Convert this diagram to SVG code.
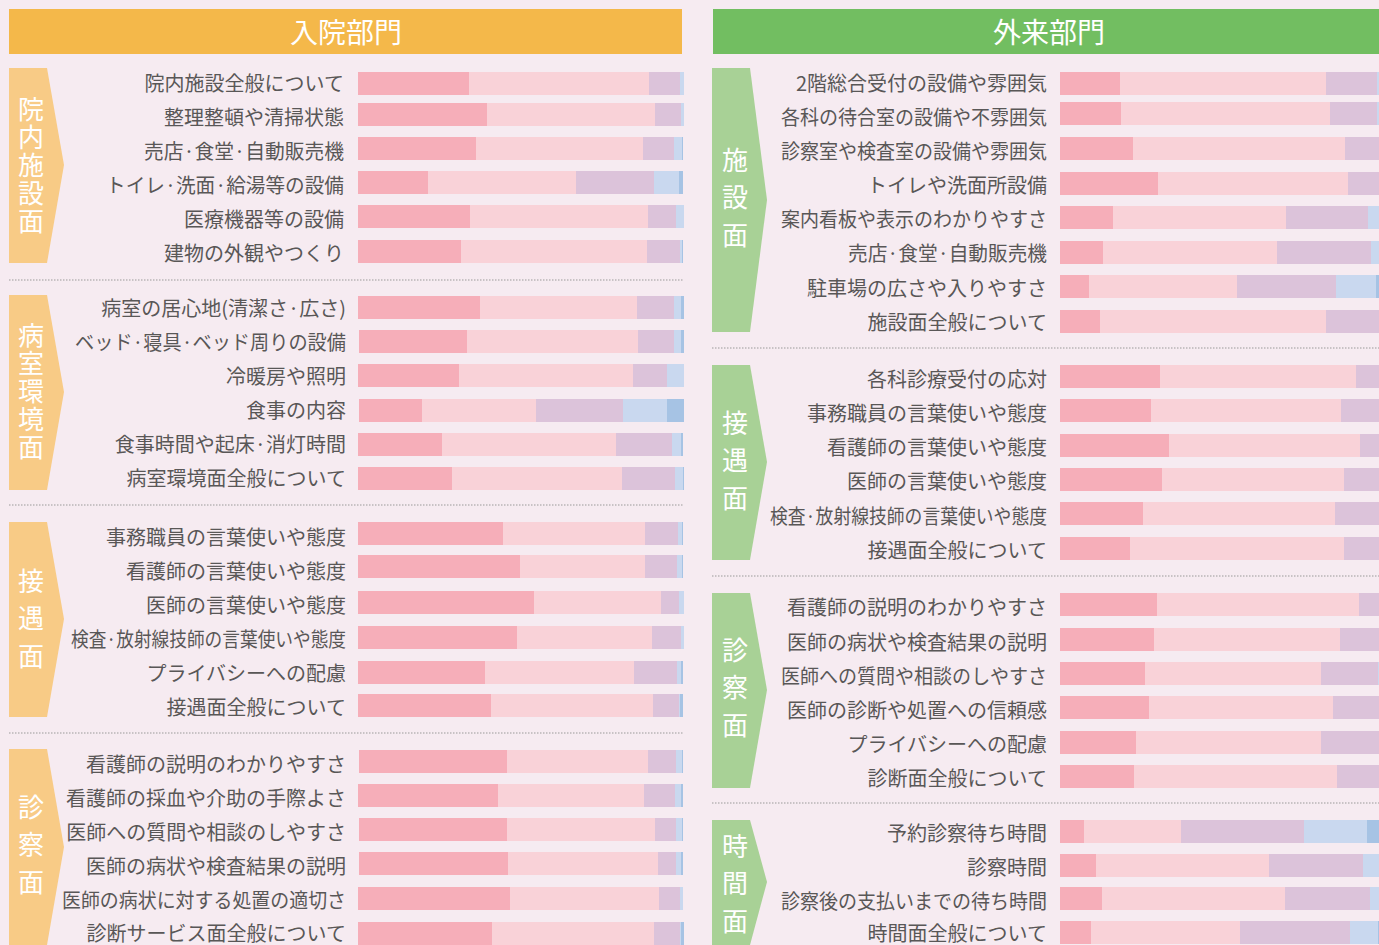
<svg xmlns="http://www.w3.org/2000/svg" width="1379" height="945" viewBox="0 0 1379 945">
<style>
text{font-family:"Noto Sans CJK JP","Noto Sans",sans-serif}
.lbl{font-size:20px;fill:#595757;text-anchor:end;dominant-baseline:central}
.side{font-size:26px;fill:#fff;writing-mode:vertical-rl;text-orientation:upright}
.s28{letter-spacing:2px}.s38{letter-spacing:11.5px}
.hdr{font-size:28px;fill:#fff;text-anchor:middle;dominant-baseline:central}
.c1{fill:#F6AEB9}.c2{fill:#F9D2D8}.c3{fill:#DCC3DA}.c4{fill:#C9D8EF}.c5{fill:#A6C3E4}
.div{stroke:#9a9a9a;stroke-width:1.2;stroke-dasharray:1.5 1.5;fill:none}
.bar rect{height:23px}
</style>
<rect width="1379" height="945" fill="#F6EBF1"/>

<g id="header-inpatient"><rect x="9" y="9" width="673" height="45" fill="#F4B84A"/><text class="hdr" x="346" y="31">入院部門</text></g>
<g id="header-outpatient"><rect x="713" y="9" width="666" height="45" fill="#72BE61"/><text class="hdr" x="1049" y="31">外来部門</text></g>

<g id="connectors">
<line class="div" x1="9" y1="280" x2="684" y2="280"/>
<line class="div" x1="9" y1="505" x2="684" y2="505"/>
<line class="div" x1="9" y1="733" x2="684" y2="733"/>
<line class="div" x1="712" y1="348" x2="1379" y2="348"/>
<line class="div" x1="712" y1="576" x2="1379" y2="576"/>
<line class="div" x1="712" y1="803" x2="1379" y2="803"/>
</g>

<!-- Left side labels -->
<g id="side-in-1"><polygon points="9,68 47,68 64,165 47,263 9,263" fill="#F8CB86"/>
<text class="side s28" x="31" y="96">院内施設面</text></g>
<g id="side-in-2"><polygon points="9,295 47,295 64,392 47,490 9,490" fill="#F8CB86"/>
<text class="side s28" x="31" y="322">病室環境面</text></g>
<g id="side-in-3"><polygon points="9,522 47,522 64,619 47,717 9,717" fill="#F8CB86"/>
<text class="side s38" x="31" y="568">接遇面</text></g>
<g id="side-in-4"><polygon points="9,749 47,749 64,847 47,945 9,945" fill="#F8CB86"/>
<text class="side s38" x="31" y="794">診察面</text></g>

<!-- Right side labels -->
<g id="side-out-1"><polygon points="712,68 750,68 767,200 750,332 712,332" fill="#A8D196"/>
<text class="side s38" x="735" y="147">施設面</text></g>
<g id="side-out-2"><polygon points="712,365 750,365 767,462 750,560 712,560" fill="#A8D196"/>
<text class="side s38" x="735" y="410">接遇面</text></g>
<g id="side-out-3"><polygon points="712,593 750,593 767,690 750,788 712,788" fill="#A8D196"/>
<text class="side s38" x="735" y="637">診察面</text></g>
<g id="side-out-4"><polygon points="712,820 750,820 767,882 750,945 712,945" fill="#A8D196"/>
<text class="side s38" x="735" y="833">時間面</text></g>

<!-- Left labels -->
<g id="labels-in">
<text class="lbl" x="344" y="82">院内施設全般について</text>
<text class="lbl" x="344" y="116">整理整頓や清掃状態</text>
<text class="lbl" x="344" y="150" textLength="200" lengthAdjust="spacingAndGlyphs">売店·食堂·自動販売機</text>
<text class="lbl" x="344" y="184" textLength="238" lengthAdjust="spacingAndGlyphs">トイレ·洗面·給湯等の設備</text>
<text class="lbl" x="344" y="218">医療機器等の設備</text>
<text class="lbl" x="344" y="252">建物の外観やつくり</text>
<text class="lbl" x="346" y="307">病室の居心地(清潔さ·広さ)</text>
<text class="lbl" x="346" y="341" textLength="271" lengthAdjust="spacingAndGlyphs">ベッド·寝具·ベッド周りの設備</text>
<text class="lbl" x="346" y="375">冷暖房や照明</text>
<text class="lbl" x="346" y="409">食事の内容</text>
<text class="lbl" x="346" y="443">食事時間や起床·消灯時間</text>
<text class="lbl" x="346" y="477">病室環境面全般について</text>
<text class="lbl" x="346" y="536">事務職員の言葉使いや態度</text>
<text class="lbl" x="346" y="570">看護師の言葉使いや態度</text>
<text class="lbl" x="346" y="604">医師の言葉使いや態度</text>
<text class="lbl" x="346" y="638" textLength="275" lengthAdjust="spacingAndGlyphs">検査·放射線技師の言葉使いや態度</text>
<text class="lbl" x="346" y="672">プライバシーへの配慮</text>
<text class="lbl" x="346" y="706">接遇面全般について</text>
<text class="lbl" x="346" y="763">看護師の説明のわかりやすさ</text>
<text class="lbl" x="346" y="797">看護師の採血や介助の手際よさ</text>
<text class="lbl" x="346" y="831">医師への質問や相談のしやすさ</text>
<text class="lbl" x="346" y="865">医師の病状や検査結果の説明</text>
<text class="lbl" x="346" y="899" textLength="284" lengthAdjust="spacingAndGlyphs">医師の病状に対する処置の適切さ</text>
<text class="lbl" x="346" y="932">診断サービス面全般について</text>
</g>

<!-- Right labels -->
<g id="labels-out">
<text class="lbl" x="1047" y="82">2階総合受付の設備や雰囲気</text>
<text class="lbl" x="1047" y="116" textLength="266" lengthAdjust="spacingAndGlyphs">各科の待合室の設備や不雰囲気</text>
<text class="lbl" x="1047" y="150" textLength="266" lengthAdjust="spacingAndGlyphs">診察室や検査室の設備や雰囲気</text>
<text class="lbl" x="1047" y="184">トイレや洗面所設備</text>
<text class="lbl" x="1047" y="218" textLength="266" lengthAdjust="spacingAndGlyphs">案内看板や表示のわかりやすさ</text>
<text class="lbl" x="1047" y="252" textLength="199" lengthAdjust="spacingAndGlyphs">売店·食堂·自動販売機</text>
<text class="lbl" x="1047" y="287">駐車場の広さや入りやすさ</text>
<text class="lbl" x="1047" y="321">施設面全般について</text>
<text class="lbl" x="1047" y="378">各科診療受付の応対</text>
<text class="lbl" x="1047" y="412">事務職員の言葉使いや態度</text>
<text class="lbl" x="1047" y="446">看護師の言葉使いや態度</text>
<text class="lbl" x="1047" y="480">医師の言葉使いや態度</text>
<text class="lbl" x="1047" y="515" textLength="277" lengthAdjust="spacingAndGlyphs">検査·放射線技師の言葉使いや態度</text>
<text class="lbl" x="1047" y="549">接遇面全般について</text>
<text class="lbl" x="1047" y="606">看護師の説明のわかりやすさ</text>
<text class="lbl" x="1047" y="641">医師の病状や検査結果の説明</text>
<text class="lbl" x="1047" y="675" textLength="266" lengthAdjust="spacingAndGlyphs">医師への質問や相談のしやすさ</text>
<text class="lbl" x="1047" y="709">医師の診断や処置への信頼感</text>
<text class="lbl" x="1047" y="743">プライバシーへの配慮</text>
<text class="lbl" x="1047" y="777">診断面全般について</text>
<text class="lbl" x="1047" y="832">予約診察待ち時間</text>
<text class="lbl" x="1047" y="866">診察時間</text>
<text class="lbl" x="1047" y="900" textLength="266" lengthAdjust="spacingAndGlyphs">診察後の支払いまでの待ち時間</text>
<text class="lbl" x="1047" y="932">時間面全般について</text>
</g>

<!-- Left bars -->
<g id="bars-in" class="bar">
<rect class="c1" x="358" y="72" width="111"/><rect class="c2" x="469" y="72" width="180"/><rect class="c3" x="649" y="72" width="31"/><rect class="c4" x="680" y="72" width="4"/>
<rect class="c1" x="358" y="103" width="129"/><rect class="c2" x="487" y="103" width="168"/><rect class="c3" x="655" y="103" width="26"/><rect class="c4" x="681" y="103" width="3"/>
<rect class="c1" x="358" y="137" width="118"/><rect class="c2" x="476" y="137" width="167"/><rect class="c3" x="643" y="137" width="31"/><rect class="c4" x="674" y="137" width="8"/><rect class="c5" x="682" y="137" width="1"/>
<rect class="c1" x="358" y="171" width="70"/><rect class="c2" x="428" y="171" width="148"/><rect class="c3" x="576" y="171" width="78"/><rect class="c4" x="654" y="171" width="25"/><rect class="c5" x="679" y="171" width="4"/>
<rect class="c1" x="358" y="205" width="112"/><rect class="c2" x="470" y="205" width="178"/><rect class="c3" x="648" y="205" width="28"/><rect class="c4" x="676" y="205" width="8"/>
<rect class="c1" x="358" y="240" width="103"/><rect class="c2" x="461" y="240" width="186"/><rect class="c3" x="647" y="240" width="33"/><rect class="c4" x="680" y="240" width="2"/><rect class="c5" x="682" y="240" width="1"/>

<rect class="c1" x="358" y="296" width="122"/><rect class="c2" x="480" y="296" width="157"/><rect class="c3" x="637" y="296" width="37"/><rect class="c4" x="674" y="296" width="7"/><rect class="c5" x="681" y="296" width="3"/>
<rect class="c1" x="359" y="330" width="108"/><rect class="c2" x="467" y="330" width="171"/><rect class="c3" x="638" y="330" width="36"/><rect class="c4" x="674" y="330" width="7"/><rect class="c5" x="681" y="330" width="3"/>
<rect class="c1" x="358" y="364" width="101"/><rect class="c2" x="459" y="364" width="174"/><rect class="c3" x="633" y="364" width="34"/><rect class="c4" x="667" y="364" width="17"/>
<rect class="c1" x="359" y="399" width="63"/><rect class="c2" x="422" y="399" width="114"/><rect class="c3" x="536" y="399" width="87"/><rect class="c4" x="623" y="399" width="44"/><rect class="c5" x="667" y="399" width="17"/>
<rect class="c1" x="358" y="433" width="84"/><rect class="c2" x="442" y="433" width="174"/><rect class="c3" x="616" y="433" width="56"/><rect class="c4" x="672" y="433" width="9"/><rect class="c5" x="681" y="433" width="2"/>
<rect class="c1" x="358" y="467" width="94"/><rect class="c2" x="452" y="467" width="170"/><rect class="c3" x="622" y="467" width="53"/><rect class="c4" x="675" y="467" width="8"/><rect class="c5" x="683" y="467" width="1"/>

<rect class="c1" x="358" y="522" width="145"/><rect class="c2" x="503" y="522" width="142"/><rect class="c3" x="645" y="522" width="33"/><rect class="c4" x="678" y="522" width="4"/><rect class="c5" x="682" y="522" width="1"/>
<rect class="c1" x="358" y="555" width="162"/><rect class="c2" x="520" y="555" width="125"/><rect class="c3" x="645" y="555" width="32"/><rect class="c4" x="677" y="555" width="5"/><rect class="c5" x="682" y="555" width="1"/>
<rect class="c1" x="358" y="591" width="176"/><rect class="c2" x="534" y="591" width="127"/><rect class="c3" x="661" y="591" width="18"/><rect class="c4" x="679" y="591" width="5"/>
<rect class="c1" x="358" y="626" width="159"/><rect class="c2" x="517" y="626" width="135"/><rect class="c3" x="652" y="626" width="29"/><rect class="c4" x="681" y="626" width="3"/>
<rect class="c1" x="358" y="661" width="127"/><rect class="c2" x="485" y="661" width="149"/><rect class="c3" x="634" y="661" width="43"/><rect class="c4" x="677" y="661" width="4"/><rect class="c5" x="681" y="661" width="2"/>
<rect class="c1" x="358" y="694" width="133"/><rect class="c2" x="491" y="694" width="162"/><rect class="c3" x="653" y="694" width="26"/><rect class="c4" x="679" y="694" width="1"/><rect class="c5" x="680" y="694" width="3"/>

<rect class="c1" x="359" y="750" width="148"/><rect class="c2" x="507" y="750" width="141"/><rect class="c3" x="648" y="750" width="28"/><rect class="c4" x="676" y="750" width="6"/><rect class="c5" x="682" y="750" width="1"/>
<rect class="c1" x="358" y="784" width="140"/><rect class="c2" x="498" y="784" width="146"/><rect class="c3" x="644" y="784" width="31"/><rect class="c4" x="675" y="784" width="6"/><rect class="c5" x="681" y="784" width="2"/>
<rect class="c1" x="359" y="818" width="148"/><rect class="c2" x="507" y="818" width="148"/><rect class="c3" x="655" y="818" width="21"/><rect class="c4" x="676" y="818" width="6"/><rect class="c5" x="682" y="818" width="1"/>
<rect class="c1" x="359" y="852" width="149"/><rect class="c2" x="508" y="852" width="150"/><rect class="c3" x="658" y="852" width="18"/><rect class="c4" x="676" y="852" width="5"/><rect class="c5" x="681" y="852" width="2"/>
<rect class="c1" x="358" y="887" width="152"/><rect class="c2" x="510" y="887" width="149"/><rect class="c3" x="659" y="887" width="21"/><rect class="c4" x="680" y="887" width="3"/>
<rect class="c1" x="358" y="922" width="134"/><rect class="c2" x="492" y="922" width="162"/><rect class="c3" x="654" y="922" width="26"/><rect class="c4" x="680" y="922" width="1"/><rect class="c5" x="681" y="922" width="3"/>
</g>

<!-- Right bars -->
<g id="bars-out" class="bar">
<rect class="c1" x="1060" y="72" width="60"/><rect class="c2" x="1120" y="72" width="206"/><rect class="c3" x="1326" y="72" width="51"/><rect class="c4" x="1377" y="72" width="2"/>
<rect class="c1" x="1060" y="102" width="61"/><rect class="c2" x="1121" y="102" width="209"/><rect class="c3" x="1330" y="102" width="47"/><rect class="c4" x="1377" y="102" width="2"/>
<rect class="c1" x="1060" y="137" width="73"/><rect class="c2" x="1133" y="137" width="212"/><rect class="c3" x="1345" y="137" width="34"/>
<rect class="c1" x="1060" y="172" width="98"/><rect class="c2" x="1158" y="172" width="190"/><rect class="c3" x="1348" y="172" width="31"/>
<rect class="c1" x="1060" y="206" width="53"/><rect class="c2" x="1113" y="206" width="173"/><rect class="c3" x="1286" y="206" width="82"/><rect class="c4" x="1368" y="206" width="11"/>
<rect class="c1" x="1060" y="241" width="43"/><rect class="c2" x="1103" y="241" width="174"/><rect class="c3" x="1277" y="241" width="94"/><rect class="c4" x="1371" y="241" width="8"/>
<rect class="c1" x="1060" y="275" width="29"/><rect class="c2" x="1089" y="275" width="148"/><rect class="c3" x="1237" y="275" width="99"/><rect class="c4" x="1336" y="275" width="40"/><rect class="c5" x="1376" y="275" width="3"/>
<rect class="c1" x="1060" y="310" width="40"/><rect class="c2" x="1100" y="310" width="226"/><rect class="c3" x="1326" y="310" width="53"/>

<rect class="c1" x="1060" y="365" width="100"/><rect class="c2" x="1160" y="365" width="196"/><rect class="c3" x="1356" y="365" width="23"/>
<rect class="c1" x="1060" y="399" width="91"/><rect class="c2" x="1151" y="399" width="190"/><rect class="c3" x="1341" y="399" width="38"/>
<rect class="c1" x="1060" y="434" width="109"/><rect class="c2" x="1169" y="434" width="191"/><rect class="c3" x="1360" y="434" width="19"/>
<rect class="c1" x="1060" y="468" width="102"/><rect class="c2" x="1162" y="468" width="182"/><rect class="c3" x="1344" y="468" width="35"/>
<rect class="c1" x="1060" y="502" width="83"/><rect class="c2" x="1143" y="502" width="192"/><rect class="c3" x="1335" y="502" width="44"/>
<rect class="c1" x="1060" y="537" width="70"/><rect class="c2" x="1130" y="537" width="214"/><rect class="c3" x="1344" y="537" width="35"/>

<rect class="c1" x="1060" y="593" width="97"/><rect class="c2" x="1157" y="593" width="202"/><rect class="c3" x="1359" y="593" width="20"/>
<rect class="c1" x="1060" y="628" width="94"/><rect class="c2" x="1154" y="628" width="186"/><rect class="c3" x="1340" y="628" width="39"/>
<rect class="c1" x="1060" y="662" width="85"/><rect class="c2" x="1145" y="662" width="176"/><rect class="c3" x="1321" y="662" width="57"/><rect class="c4" x="1378" y="662" width="1"/>
<rect class="c1" x="1060" y="696" width="89"/><rect class="c2" x="1149" y="696" width="184"/><rect class="c3" x="1333" y="696" width="46"/>
<rect class="c1" x="1060" y="731" width="76"/><rect class="c2" x="1136" y="731" width="185"/><rect class="c3" x="1321" y="731" width="58"/>
<rect class="c1" x="1060" y="765" width="74"/><rect class="c2" x="1134" y="765" width="203"/><rect class="c3" x="1337" y="765" width="42"/>

<rect class="c1" x="1060" y="820" width="24"/><rect class="c2" x="1084" y="820" width="97"/><rect class="c3" x="1181" y="820" width="123"/><rect class="c4" x="1304" y="820" width="63"/><rect class="c5" x="1367" y="820" width="12"/>
<rect class="c1" x="1060" y="854" width="36"/><rect class="c2" x="1096" y="854" width="173"/><rect class="c3" x="1269" y="854" width="94"/><rect class="c4" x="1363" y="854" width="16"/>
<rect class="c1" x="1060" y="887" width="42"/><rect class="c2" x="1102" y="887" width="183"/><rect class="c3" x="1285" y="887" width="85"/><rect class="c4" x="1370" y="887" width="9"/>
<rect class="c1" x="1060" y="921" width="31"/><rect class="c2" x="1091" y="921" width="149"/><rect class="c3" x="1240" y="921" width="110"/><rect class="c4" x="1350" y="921" width="28"/><rect class="c5" x="1378" y="921" width="1"/>
</g>
</svg>
